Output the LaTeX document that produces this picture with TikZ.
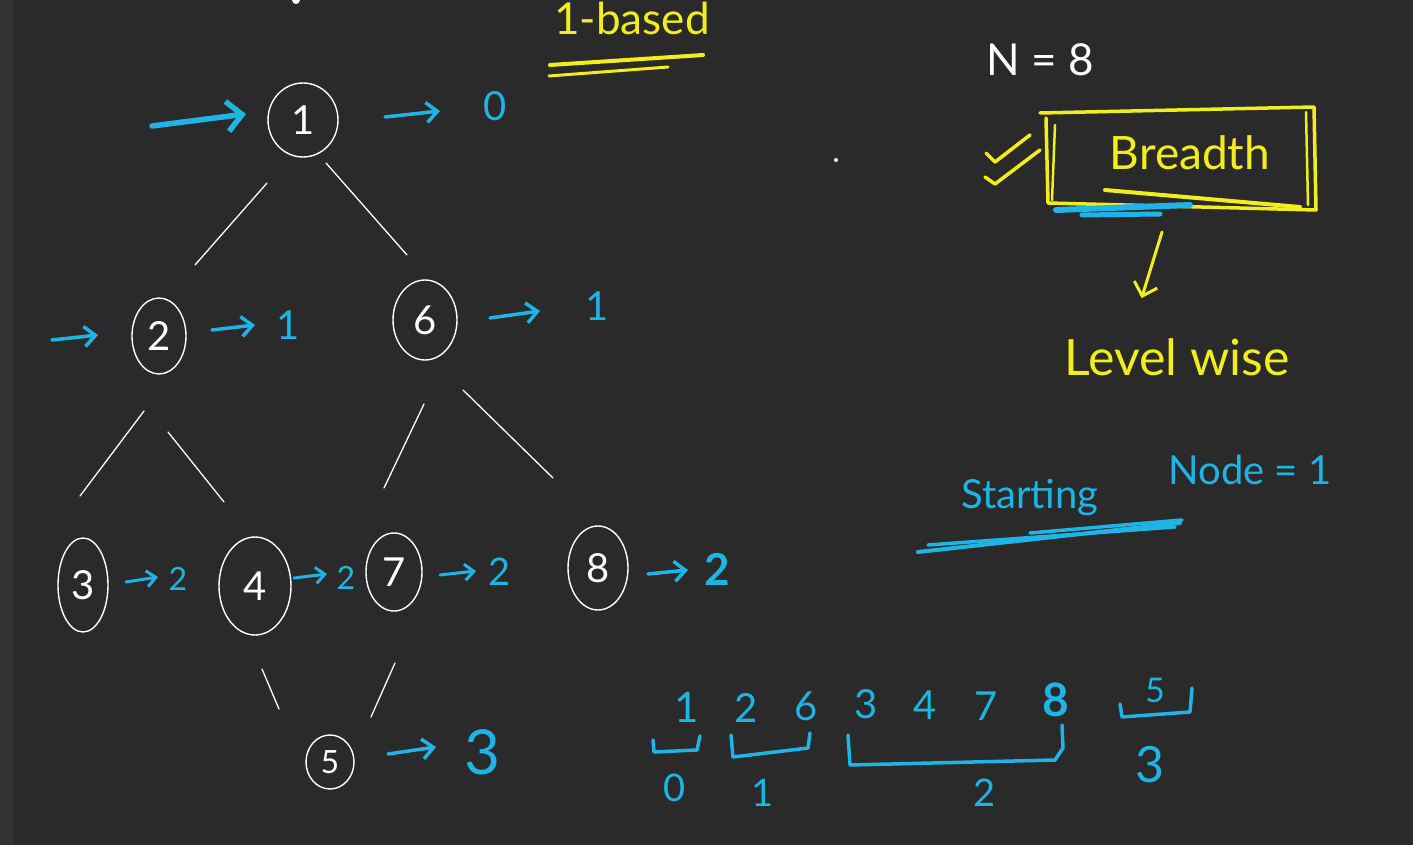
\documentclass[tikz,border=0pt]{standalone}
\usepackage{fontspec}
\setmainfont{Lato}
\usetikzlibrary{shapes.geometric,arrows.meta}
\definecolor{bg}{HTML}{2A2A2A}
\definecolor{stripc}{HTML}{333333}
\definecolor{cy}{HTML}{1EB4E6}
\definecolor{yl}{HTML}{F2EE1C}
\newcommand{\fsz}[1]{\fontsize{#1}{#1}\selectfont}
\begin{document}
\begin{tikzpicture}[x=1pt,y=-1pt,
  vert/.style={draw=white, line width=1.4pt, ellipse, inner sep=0pt, text=white, font=\fsz{40}},
  edge/.style={draw=white, line width=1.3pt, line cap=round},
  barrow/.style={draw=cy, line width=3.5pt, line cap=round, -{Straight Barb[length=11pt,width=20pt,line width=3.5pt]}},
  yarrow/.style={draw=yl, line width=3pt, line cap=round, -{Straight Barb[length=12pt,width=24pt,line width=3pt]}},
  bstroke/.style={draw=cy, line width=3.5pt, line cap=round, line join=round},
  ystroke/.style={draw=yl, line width=3pt, line cap=round, line join=round},
  btext/.style={text=cy, inner sep=0pt},
  ytext/.style={text=yl, inner sep=0pt},
  wtext/.style={text=white, inner sep=0pt}
]
\fill[bg] (0,0) rectangle (1413,845);
\fill[stripc] (0,0) rectangle (14,845);
\useasboundingbox (0,0) rectangle (1413,845);

% tree nodes
\node[vert, minimum width=70pt, minimum height=74pt] (n1) at (303,120) {1};
\node[vert, minimum width=54pt, minimum height=76pt] (n2) at (159,336) {2};
\node[vert, minimum width=64pt, minimum height=80pt] (n6) at (425,320) {6};
\node[vert, minimum width=50pt, minimum height=94pt] (n3) at (83,585) {3};
\node[vert, minimum width=72pt, minimum height=98pt] (n4) at (255,586) {4};
\node[vert, minimum width=56pt, minimum height=78pt] (n7) at (394,572) {7};
\node[vert, minimum width=60pt, minimum height=84pt] (n8) at (598,568) {8};
\node[vert, minimum width=48pt, minimum height=54pt, font=\fsz{32}] (n5) at (330,762) {5};

% tree edges (drawn with gaps, as in the sketch)
\coordinate (e12a) at (267,183); \coordinate (e12b) at (195,265);
\coordinate (e16a) at (326,163); \coordinate (e16b) at (407,255);
\coordinate (e23a) at (144,411); \coordinate (e23b) at (80,496);
\coordinate (e24a) at (168,432); \coordinate (e24b) at (224,502);
\coordinate (e67a) at (424,404); \coordinate (e67b) at (384,488);
\coordinate (e68a) at (463,390); \coordinate (e68b) at (553,478);
\coordinate (e45a) at (262,669); \coordinate (e45b) at (279,709);
\coordinate (e75a) at (395,663); \coordinate (e75b) at (371,717);
\foreach \a/\b in {e12a/e12b,e16a/e16b,e23a/e23b,e24a/e24b,e67a/e67b,e68a/e68b,e45a/e45b,e75a/e75b}
  \draw[edge] (\a) -- (\b);

% level labels
\node[btext, font=\fsz{40}] (l1) at (495,106) {0};
\node[btext, font=\fsz{40}] (l2) at (288,325) {1};
\node[btext, font=\fsz{40}] (l6) at (597,306) {1};
\node[btext, font=\fsz{32}] (l3) at (178,579) {2};
\node[btext, font=\fsz{32}] (l4) at (346,578) {2};
\node[btext, font=\fsz{38}] (l7) at (500,572) {2};
\node[btext, font=\bfseries\fsz{44}] (l8) at (717,569) {2};
\node[btext, font=\fsz{62}] (l5) at (482,752) {3};

% blue arrows
\coordinate (a0s) at (152,126); \coordinate (a0e) at (246,114);
\coordinate (a1s) at (385,117); \coordinate (a1e) at (440,111);
\coordinate (a2is) at (52,340); \coordinate (a2ie) at (98,335);
\coordinate (a2s) at (212,330); \coordinate (a2e) at (255,325);
\coordinate (a6s) at (490,318); \coordinate (a6e) at (540,311);
\coordinate (a3s) at (126,582); \coordinate (a3e) at (158,577);
\coordinate (a4s) at (294,578); \coordinate (a4e) at (327,574);
\coordinate (a7s) at (440,575); \coordinate (a7e) at (476,571);
\coordinate (a8s) at (648,574); \coordinate (a8e) at (688,570);
\coordinate (a5s) at (388,754); \coordinate (a5e) at (436,747);
\draw[barrow, line width=5.5pt, -{Straight Barb[length=15pt,width=30pt,line width=5.5pt]}] (a0s) -- (a0e);
\foreach \s/\e in {a1s/a1e,a2is/a2ie,a2s/a2e,a6s/a6e,a8s/a8e,a5s/a5e}
  \draw[barrow] (\s) -- (\e);
\foreach \s/\e in {a3s/a3e,a4s/a4e,a7s/a7e}
  \draw[barrow, line width=3pt, -{Straight Barb[length=9pt,width=16pt,line width=3pt]}] (\s) -- (\e);

% 1-based
\node[ytext, font=\fsz{44}] (based) at (632,18) {1-based};
\coordinate (u1a) at (550,65); \coordinate (u1b) at (703,55);
\coordinate (u2a) at (549,76); \coordinate (u2b) at (668,67);
\draw[ystroke, line width=4pt] (u1a) -- (u1b);
\draw[ystroke] (u2a) -- (u2b);

% N = 8
\node[wtext, font=\fsz{44}] (nn) at (1040,60) {N = 8};

% Breadth box
\node[ytext, font=\fsz{46}] (breadth) at (1190,153) {Breadth};
\draw[ystroke, line width=3.5pt] (1040,113) -- (1314,107) -- (1316,210) -- (1048,203) -- (1046,118);
\draw[ystroke, line width=2.5pt] (1055,125) -- (1052,200);
\draw[ystroke, line width=2.5pt] (1306,112) -- (1308,205);
\draw[ystroke, line width=4pt] (1105,190) -- (1300,207);
\draw[cy, line width=6pt, line cap=round] (1056,210) -- (1190,205);
\draw[cy, line width=5pt, line cap=round] (1082,215) -- (1160,214);
% double check marks
\draw[ystroke, line width=3.5pt] (986,153) -- (995,162) -- (1030,135);
\draw[ystroke, line width=3.5pt] (985,177) -- (995,184) -- (1040,150);

% arrow down to Level wise
\node[ytext, font=\fsz{50}] (level) at (1177,357) {Level wise};
\coordinate (ydown) at (1162,232);
\draw[yarrow, shorten >=2pt] (ydown) -- (1141,300);

% Starting Node = 1
\node[btext, font=\fsz{40}] (start) at (1030,497) {Starting};
\node[btext, font=\fsz{40}] (nodeeq) at (1250,470) {Node = 1};
\draw[bstroke, line width=4pt] (918,552) -- (1180,523);
\draw[bstroke] (928,545) -- (1175,527);
\draw[bstroke] (1030,533) -- (1182,520);

% bottom BFS order
\node[btext, font=\fsz{42}] (s1) at (687,707) {1};
\node[btext, font=\fsz{40}] (s2) at (746,708) {2};
\node[btext, font=\fsz{40}] (s6) at (806,706) {6};
\node[btext, font=\fsz{40}] (s3) at (866,704) {3};
\node[btext, font=\fsz{40}] (s4) at (925,705) {4};
\node[btext, font=\fsz{40}] (s7) at (986,706) {7};
\node[btext, font=\bfseries\fsz{46}] (s8) at (1056,700) {8};
\node[btext, font=\fsz{34}] (s5) at (1155,690) {5};

\draw[bstroke] (653,740) -- (654,752) -- (697,750) -- (700,736);
\draw[bstroke] (731,735) -- (733,757) -- (808,748) -- (810,733);
\draw[bstroke] (848,735) -- (850,765) -- (1055,760) -- (1063,748) -- (1062,725);
\draw[bstroke] (1120,704) -- (1122,717) -- (1190,712) -- (1192,688);

\node[btext, font=\fsz{38}] (b0) at (675,788) {0};
\node[btext, font=\fsz{38}] (b1) at (763,793) {1};
\node[btext, font=\fsz{38}] (b2) at (985,793) {2};
\node[btext, font=\fsz{50}] (b3) at (1150,765) {3};

% stray dots
\fill[white] (836,160) circle (2pt);
\fill[white] (296,0) circle (4pt);
\end{tikzpicture}
\end{document}
